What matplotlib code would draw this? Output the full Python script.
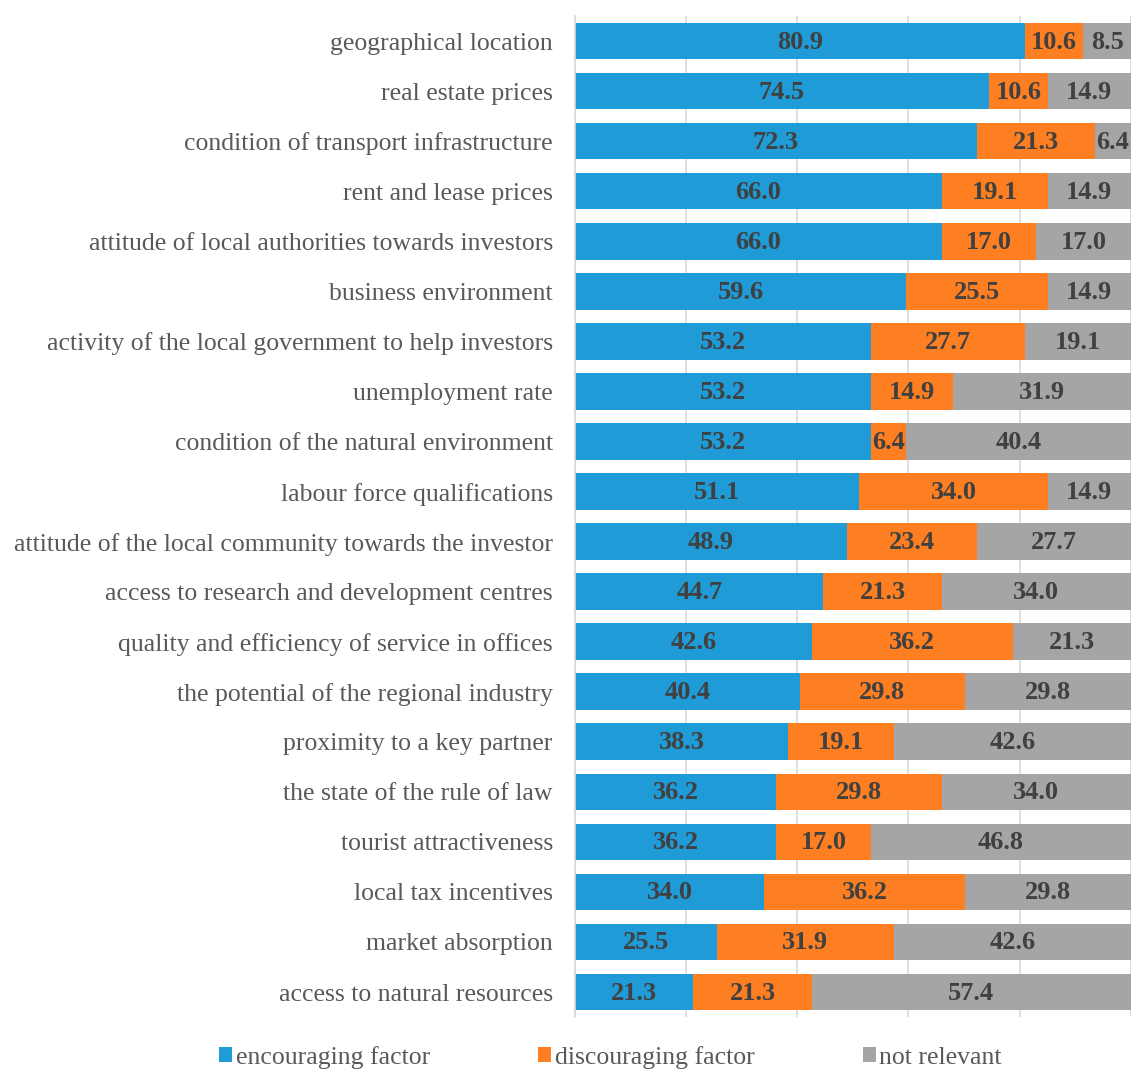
import numpy as np
import matplotlib
matplotlib.use("Agg")
import matplotlib.pyplot as plt

# factors, top row first
factors = [
    "geographical location",
    "real estate prices",
    "condition of transport infrastructure",
    "rent and lease prices",
    "attitude of local authorities towards investors",
    "business environment",
    "activity of the local government to help investors",
    "unemployment rate",
    "condition of the natural environment",
    "labour force qualifications",
    "attitude of the local community towards the investor",
    "access to research and development centres",
    "quality and efficiency of service in offices",
    "the potential of the regional industry",
    "proximity to a key partner",
    "the state of the rule of law",
    "tourist attractiveness",
    "local tax incentives",
    "market absorption",
    "access to natural resources",
]
encouraging = [80.9, 74.5, 72.3, 66.0, 66.0, 59.6, 53.2, 53.2, 53.2, 51.1,
               48.9, 44.7, 42.6, 40.4, 38.3, 36.2, 36.2, 34.0, 25.5, 21.3]
discouraging = [10.6, 10.6, 21.3, 19.1, 17.0, 25.5, 27.7, 14.9, 6.4, 34.0,
                23.4, 21.3, 36.2, 29.8, 19.1, 29.8, 17.0, 36.2, 31.9, 21.3]
not_relevant = [8.5, 14.9, 6.4, 14.9, 17.0, 14.9, 19.1, 31.9, 40.4, 14.9,
                27.7, 34.0, 21.3, 29.8, 42.6, 34.0, 46.8, 29.8, 42.6, 57.4]
series = ["encouraging factor", "discouraging factor", "not relevant"]
colors = ["#1f9bd7", "#fd7f22", "#a5a5a5"]

plt.rcParams["font.family"] = ["Liberation Serif", "DejaVu Serif"]

fig = plt.figure(figsize=(11.33, 10.70), dpi=100)
ax = fig.add_axes([0.5075, 0.0495, 0.4905, 0.9355])

y = np.arange(len(factors))
left = np.zeros(len(factors))
for name, vals, col in zip(series, [encouraging, discouraging, not_relevant], colors):
    vals = np.array(vals)
    ax.barh(y, vals, left=left, height=0.73, color=col, label=name, zorder=2)
    for yi, l, v in zip(y, left, vals):
        ax.text(l + v / 2, yi + 0.02, f"{v:.1f}", ha="center", va="center",
                fontsize=19, fontweight="bold", color="#404040", zorder=3)
    left += vals

ax.set_xlim(0, 100)
ax.set_ylim(len(factors) - 0.5, -0.5)
ax.set_xticks(np.arange(0, 101, 20))
ax.xaxis.grid(True, color="#d9d9d9", linewidth=1.2, zorder=0)
ax.tick_params(axis="x", labelbottom=False, length=0)
ax.tick_params(axis="y", length=0, pad=16)
ax.set_yticks(y)
ax.set_yticklabels(factors, fontsize=18.5, color="#595959")
for s in ["top", "right", "bottom"]:
    ax.spines[s].set_visible(False)
ax.spines["left"].set_color("#d9d9d9")
ax.spines["left"].set_linewidth(1.2)

fig.legend(loc="center", bbox_to_anchor=(0.539, 0.012), ncol=3, frameon=False,
           fontsize=18.5, handlelength=0.5, handleheight=0.55, handletextpad=0.15,
           columnspacing=4.2, labelcolor="#595959", borderpad=0)

fig.savefig("out.png", dpi=100)
